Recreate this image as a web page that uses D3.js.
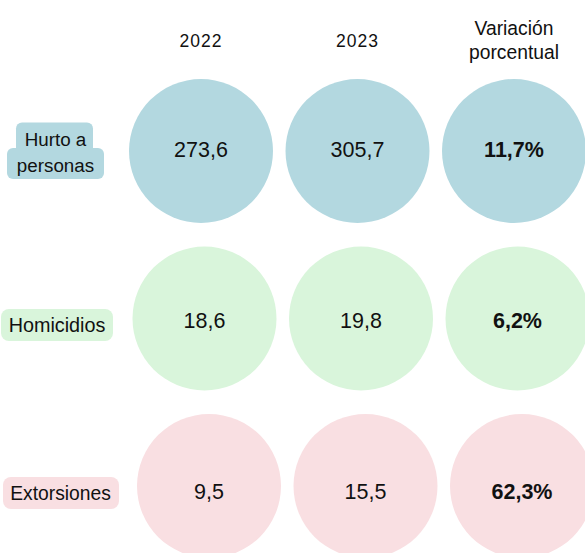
<!DOCTYPE html>
<html>
<head>
<meta charset="utf-8">
<script src="https://cdn.jsdelivr.net/npm/d3@7"></script>
<style>
  html, body { margin: 0; padding: 0; background: #ffffff; }
  svg { display: block; }
  text { font-family: "Liberation Sans", Arial, sans-serif; fill: #111; }
</style>
</head>
<body>
<svg id="chart" width="585" height="553"></svg>
<script>
// ---- data ----
const categories = ["Hurto a personas", "Homicidios", "Extorsiones"];
const columns = ["2022", "2023", "Variación porcentual"];
const values2022 = [273.6, 18.6, 9.5];
const values2023 = [305.7, 19.8, 15.5];
const variation = [11.7, 6.2, 62.3];

// ---- styles ----
const fills = ["#b3d8e0", "#d9f5db", "#f9dfe2"];
const rowShift = [0, 3.5, 8];

const fmt = v => v.toFixed(1).replace(".", ",");
const fmtPct = v => v.toFixed(1).replace(".", ",") + "%";

const svg = d3.select("#chart");

const x = d3.scalePoint().domain(columns).range([201, 514]);
const y = d3.scalePoint().domain(categories).range([151, 486]);
const r = 72;

// headers
const headerLines = columns.map(c => c === "Variación porcentual" ? ["Variación", "porcentual"] : [c]);
columns.forEach((c, i) => {
  const lines = headerLines[i];
  const t = svg.append("text")
    .attr("text-anchor", "middle")
    .attr("font-size", lines.length > 1 ? 19.3 : 17.5)
    .attr("letter-spacing", lines.length > 1 ? 0 : 1);
  lines.forEach((ln, j) => {
    t.append("tspan")
      .attr("x", x(c))
      .attr("y", lines.length > 1 ? 35 + j * 23.5 : 47)
      .text(ln);
  });
});

// rows
const textOffset = [6, 9, 13];
categories.forEach((cat, i) => {
  const cy = y(cat);
  const vals = [fmt(values2022[i]), fmt(values2023[i]), fmtPct(variation[i])];
  columns.forEach((c, j) => {
    const cx = x(c) + rowShift[i];
    svg.append("circle")
      .attr("cx", cx).attr("cy", cy).attr("r", r)
      .attr("fill", fills[i]);
    svg.append("text")
      .attr("x", cx).attr("y", cy + textOffset[i])
      .attr("text-anchor", "middle")
      .attr("font-size", 21.5)
      .attr("font-weight", j === 2 ? "bold" : "normal")
      .text(vals[j]);
  });
});

// row labels
// Hurto a personas (two-line label)
(function () {
  const g = svg.append("g");
  g.append("rect").attr("x", 16).attr("y", 122.5).attr("width", 77).attr("height", 34)
    .attr("rx", 6).attr("fill", fills[0]);
  g.append("rect").attr("x", 7).attr("y", 148).attr("width", 97).attr("height", 31)
    .attr("rx", 6).attr("fill", fills[0]);
  const parts = ["Hurto a", "personas"];
  parts.forEach((p, k) => {
    g.append("text").attr("x", 55.5).attr("y", 145.5 + k * 26)
      .attr("text-anchor", "middle").attr("font-size", 18.8).text(p);
  });
})();

svg.append("rect").attr("x", 1).attr("y", 309).attr("width", 112).attr("height", 32)
  .attr("rx", 8).attr("fill", fills[1]);
svg.append("text").attr("x", 57).attr("y", 331.5).attr("text-anchor", "middle")
  .attr("font-size", 19.8).text(categories[1]);

svg.append("rect").attr("x", 3).attr("y", 477).attr("width", 116).attr("height", 32)
  .attr("rx", 8).attr("fill", fills[2]);
svg.append("text").attr("x", 60.5).attr("y", 500).attr("text-anchor", "middle")
  .attr("font-size", 19.3).text(categories[2]);
</script>
</body>
</html>
